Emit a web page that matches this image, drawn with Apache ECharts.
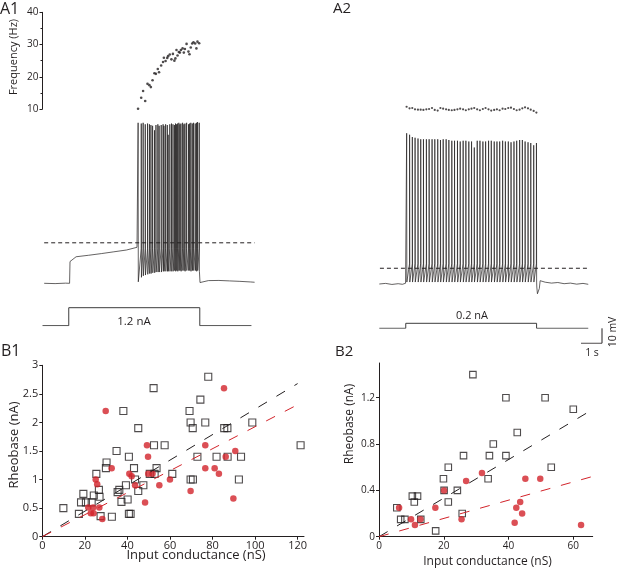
<!DOCTYPE html>
<html>
<head>
<meta charset="utf-8">
<script src="https://cdn.jsdelivr.net/npm/echarts@6/dist/echarts.min.js"></script>
<style>
html, body { margin: 0; padding: 0; background: #fff; }
#main { width: 617px; height: 569px; }
</style>
</head>
<body>
<div id="main"></div>
<script>
var INK = '#231f20';
var RED = '#d2232a';
var FONT = 'Open Sans';

// ---- A1: spike times (s), instantaneous frequency (Hz), spike peaks / troughs (mV)
var a1SpikeT = [4.55, 4.70, 4.79, 4.89, 5.00, 5.09, 5.16, 5.24, 5.33, 5.40,
    5.49, 5.55, 5.65, 5.74, 5.78, 5.86, 5.94, 5.98, 6.06, 6.14,
    6.21, 6.28, 6.33, 6.38, 6.43, 6.49, 6.54, 6.59, 6.67, 6.73,
    6.78, 6.86, 6.95, 7.00, 7.06, 7.13, 7.19, 7.27, 7.33, 7.38, 7.46];
var a1FreqHz = [10.1, 13.5, 15.6, 12.5, 17.8, 17.4, 16.8, 18.9, 21.1, 20.9,
    22.4, 21.4, 23.5, 24.6, 25.9, 24.9, 25.8, 26.4, 26.9, 25.4,
    27.1, 25.0, 25.7, 28.3, 26.6, 27.7, 27.5, 28.3, 28.8, 27.5,
    28.6, 30.2, 27.8, 27.0, 29.1, 30.3, 30.7, 30.3, 28.8, 30.9, 30.4];
var a1Peak = [37, 36.5, 37, 36, 36.5, 36, 35.5, 35, 32, 35.5,
    36, 35, 35.5, 36, 35, 36, 35.5, 29, 36, 36.5,
    36, 35.5, 36.5, 36, 36.5, 37, 36, 36.5, 37, 36,
    36.5, 37, 36, 36.5, 37, 36.5, 37, 36.5, 37, 37.5, 37];
var a1Trough = [-69, -66, -65, -64.5, -64, -63.5, -63.5, -63, -63, -62.5,
    -62.5, -62.5, -62.5, -62, -62, -62, -62, -62, -62, -62,
    -62, -61.5, -62, -61.5, -62, -61.5, -61.5, -62, -61.5, -61.5,
    -62, -61.5, -61.5, -61.5, -62, -61.5, -61.5, -61.5, -62, -61.5, -62];
var a1Threshold = -47;
var a1PreT = [0.08, 0.6, 1.1, 1.29, 1.31, 1.6, 2.2, 2.8, 3.4, 4.0, 4.5];
var a1PreV = [-70, -70.2, -69.9, -70, -55.5, -52.3, -51.3, -50.2, -49, -47.8, -46];
var a1PostT = [7.50, 7.55, 7.9, 8.4, 8.9, 9.4, 9.9, 10.1];
var a1PostV = [-69.5, -68.4, -68.2, -68.1, -68.4, -68.7, -69.1, -69.3];
var a1DashV = -43;
var a1DashT = [0.08, 10.1];
var a1StimT = [0, 1.25, 1.25, 7.49, 7.49, 9.95];
var a1StimI = [0, 0, 1.2, 1.2, 0, 0];

// ---- A2
var a2SpikeT = [1.30, 1.44, 1.57, 1.70, 1.84, 1.97, 2.10, 2.24, 2.37, 2.51,
    2.64, 2.78, 2.91, 3.04, 3.18, 3.31, 3.45, 3.58, 3.72, 3.85,
    3.99, 4.12, 4.26, 4.39, 4.52, 4.66, 4.79, 4.93, 5.06, 5.20,
    5.33, 5.47, 5.60, 5.73, 5.87, 6.00, 6.14, 6.27, 6.41, 6.54,
    6.68, 6.81, 6.94, 7.08, 7.21, 7.35, 7.48];
var a2FreqHz = [10.7, 10.2, 10.3, 9.9, 9.8, 9.8, 9.7, 9.9, 10.0, 10.3,
    9.7, 9.5, 10.3, 10.1, 9.9, 9.7, 9.6, 9.7, 9.9, 10.1,
    9.9, 9.6, 9.9, 10.1, 10.3, 9.9, 9.6, 10.0, 10.3, 9.9,
    9.5, 9.7, 9.9, 9.6, 10.1, 10.0, 10.3, 10.4, 10.0, 9.6,
    9.8, 10.2, 10.5, 10.2, 9.8, 9.4, 8.9];
var a2Peak = [30.5, 29.5, 28, 27.5, 27, 26.5, 26.5, 26.5, 26.5, 26.5,
    26.5, 26.5, 26, 26.5, 26.5, 26, 25.5, 25.5, 25.5, 25,
    25.5, 25.5, 25, 25, 21, 25.5, 25.5, 25, 25, 25.5,
    25.5, 25, 25, 25, 25.5, 25, 25, 24.5, 25, 25.5,
    26, 26, 25, 24.5, 24, 22.5, 24];
var a2Trough = -68.7;
var a2Threshold = -56.5;
var a2PreT = [0, 0.3, 0.6, 0.9, 1.1, 1.25, 1.29];
var a2PreV = [-70, -69.6, -70.3, -69.8, -70.2, -69.5, -68.5];
var a2PostT = [7.50, 7.53, 7.62, 7.66, 7.9, 8.2, 8.5, 8.8, 9.1, 9.4, 9.7, 9.95];
var a2PostV = [-72, -76.5, -73, -67.8, -68.8, -69.4, -69.0, -69.8, -69.4, -70.1, -69.6, -70.2];
var a2DashV = -59.5;
var a2DashT = [0.03, 10.03];
var a2StimT = [0, 1.26, 1.26, 7.49, 7.49, 9.95];
var a2StimI = [0, 0, 0.2, 0.2, 0, 0];

// scale bar: 1 s, 10 mV
var barT = [0, 1, 1];
var barV = [0, 0, 10];

// ---- B1: input conductance (nS) vs rheobase (nA)
var b1SquareX = [9.9, 17.2, 18.2, 19.3, 20.5, 23.2, 24.2, 25.4, 26.6, 26.9,
    27.4, 29.9, 30.2, 32.7, 34.9, 35.4, 36.2, 37.2, 38.1, 39.3,
    40.1, 40.7, 40.7, 41.5, 43.1, 43.6, 45.1, 45.1, 47.5, 50.5,
    52.3, 52.5, 52.8, 53.7, 57.5, 61.1, 69.2, 69.7, 69.7, 70.8,
    70.7, 72.9, 74.3, 76.6, 78.0, 81.9, 85.5, 87.0, 87.1, 92.4,
    93.4, 98.7, 121.4];
var b1SquareY = [0.5, 0.4, 0.6, 0.75, 0.6, 0.6, 0.72, 1.1, 0.82, 0.7,
    0.36, 1.2, 1.3, 0.35, 1.5, 0.78, 0.82, 0.61, 2.2, 0.9,
    0.65, 1.4, 0.4, 0.4, 1.2, 1.0, 0.8, 1.9, 0.9, 1.1,
    2.6, 1.6, 1.1, 1.2, 1.6, 1.1, 2.2, 2.0, 1.0, 1.0,
    1.9, 1.4, 2.4, 2.0, 2.8, 1.4, 1.9, 1.9, 1.4, 1.0,
    1.4, 2.0, 1.6];
var b1CircleX = [21.6, 22.8, 23.9, 24.1, 25.1, 25.8, 26.8, 28.2, 29.8, 32.6,
    40.9, 42.0, 43.6, 48.3, 49.2, 49.7, 49.8, 51.8, 55.0, 60.0,
    69.7, 76.6, 76.6, 81.0, 83.0, 85.4, 86.2, 89.8, 90.7];
var b1CircleY = [0.51, 0.41, 0.51, 0.41, 1.0, 0.92, 0.51, 0.31, 2.2, 1.2,
    1.1, 1.06, 0.9, 0.6, 1.6, 1.4, 1.1, 1.1, 0.9, 1.0,
    0.8, 1.6, 1.2, 1.2, 1.1, 2.6, 1.4, 0.67, 1.5];
var b1FitX = [0, 120];
var b1FitSquareY = [0, 2.68];
var b1FitCircleY = [0, 2.31];

// ---- B2
var b2SquareX = [5.5, 6.7, 8.0, 10.3, 11.9, 10.9, 12.9, 17.5, 19.9, 20.1,
    21.4, 21.4, 24.2, 25.7, 26.1, 29.0, 33.7, 34.1, 35.3, 39.2,
    39.2, 42.7, 51.3, 53.2, 60.0];
var b2SquareY = [0.25, 0.15, 0.15, 0.35, 0.35, 0.3, 0.15, 0.05, 0.5, 0.4,
    0.6, 0.3, 0.4, 0.2, 0.7, 1.4, 0.5, 0.7, 0.8, 1.2,
    0.7, 0.9, 1.2, 0.6, 1.1];
var b2CircleX = [6.2, 9.9, 11.1, 12.8, 17.4, 20.1, 25.5, 26.9, 31.8, 41.9,
    42.4, 43.6, 44.2, 45.2, 49.8, 62.4];
var b2CircleY = [0.25, 0.15, 0.1, 0.15, 0.25, 0.4, 0.15, 0.48, 0.55, 0.12,
    0.25, 0.3, 0.2, 0.5, 0.5, 0.1];
var b2FitX = [0, 65.7];
var b2FitSquareY = [0, 1.094];
var b2FitCircleY = [0, 0.518];

function pairs(xs, ys) {
    return xs.map(function (x, i) { return [x, ys[i]]; });
}
function pick(v, i) { return Array.isArray(v) ? v[i] : v; }

// membrane trace: pre-stim points, then each spike (threshold -> peak -> trough), then post points
function buildTrace(preT, preV, spikeT, peak, trough, thr, postT, postV) {
    var pts = pairs(preT, preV);
    spikeT.forEach(function (t, i) {
        if (i > 0) pts.push([t, pick(thr, i)]);
        pts.push([t + 0.003, pick(peak, i)]);
        pts.push([t + 0.012, pick(trough, i)]);
    });
    return pts.concat(pairs(postT, postV));
}

var hiddenX = function (g) { return { gridIndex: g, type: 'value', min: 0, max: 10.2, show: false }; };
var hiddenY = function (g, mn, mx) { return { gridIndex: g, type: 'value', min: mn, max: mx, show: false }; };

function axisStyle(size) {
    return {
        axisLine: { show: true, lineStyle: { color: INK, width: 1 } },
        axisTick: { show: true, length: 3, lineStyle: { color: INK, width: 1 } },
        axisLabel: { color: INK, fontSize: size, fontFamily: FONT, margin: 4 },
        splitLine: { show: false }
    };
}

function lineSeries(g, data, style) {
    return {
        type: 'line', xAxisIndex: g, yAxisIndex: g, data: data,
        showSymbol: false, symbol: 'none', silent: true,
        lineStyle: style
    };
}

var b1x = axisStyle(11);
b1x.gridIndex = 7; b1x.type = 'value'; b1x.min = 0; b1x.max = 123; b1x.interval = 20;
b1x.axisTick.customValues = [0, 20, 40, 60, 80, 100, 120];
b1x.axisLabel.customValues = [0, 20, 40, 60, 80, 100, 120];
var b1y = axisStyle(11);
b1y.gridIndex = 7; b1y.type = 'value'; b1y.min = 0; b1y.max = 3; b1y.interval = 0.5;

var b2x = axisStyle(10);
b2x.gridIndex = 8; b2x.type = 'value'; b2x.min = 0; b2x.max = 66; b2x.interval = 20;
b2x.axisTick.customValues = [0, 20, 40, 60];
b2x.axisLabel.customValues = [0, 20, 40, 60];
var b2y = axisStyle(10);
b2y.gridIndex = 8; b2y.type = 'value'; b2y.min = 0; b2y.max = 1.5; b2y.interval = 0.4;
b2y.axisTick.customValues = [0, 0.4, 0.8, 1.2];
b2y.axisLabel.customValues = [0, 0.4, 0.8, 1.2];

var freqY = axisStyle(10);
freqY.gridIndex = 0; freqY.type = 'value'; freqY.min = 10; freqY.max = 40; freqY.interval = 10;
freqY.minorTick = { show: true, splitNumber: 2, length: 2, lineStyle: { color: INK, width: 1 } };

function txt(s, x, y, size, rot) {
    return {
        type: 'text', x: x, y: y, rotation: rot || 0, silent: true,
        style: {
            text: s, fill: INK, fontSize: size, fontFamily: FONT,
            align: 'center', verticalAlign: 'middle',
            textAlign: 'center', textVerticalAlign: 'middle'
        }
    };
}
function label(s, x, y, size) {
    return {
        type: 'text', left: x, top: y, silent: true,
        style: { text: s, fill: INK, fontSize: size, fontFamily: FONT }
    };
}

var traceStyle = { color: INK, width: 0.7 };
var stimStyle = { color: '#3c3c3c', width: 1 };
var dashStyle = { color: INK, width: 1, type: [4, 3] };
var fitDash = [10, 11];

var myChart = echarts.init(document.getElementById('main'), null, { renderer: 'canvas' });
var option = {
    animation: false,
    backgroundColor: '#fff',
    grid: [
        { left: 42.5, top: 12.3, width: 214.2, height: 96.7, outerBoundsMode: 'none' },
        { left: 42.5, top: 118.3, width: 214.2, height: 180, outerBoundsMode: 'none' },
        { left: 42.5, top: 303.2, width: 214.2, height: 22.5, outerBoundsMode: 'none' },
        // A2 frequency: same Hz scale as A1 (3.22 px/Hz), extended down to 5 Hz
        { left: 379.3, top: 12.3, width: 214.2, height: 112.8, outerBoundsMode: 'none' },
        { left: 379.3, top: 119, width: 214.2, height: 180, outerBoundsMode: 'none' },
        { left: 379.3, top: 320.8, width: 214.2, height: 7.5, outerBoundsMode: 'none' },
        { left: 581, top: 328.3, width: 21, height: 15, outerBoundsMode: 'none' },
        { left: 42.3, top: 365.3, width: 261.7, height: 171.4, outerBoundsMode: 'none' },
        { left: 379, top: 363, width: 213.7, height: 173.7, outerBoundsMode: 'none' }
    ],
    xAxis: [
        hiddenX(0), hiddenX(1), hiddenX(2), hiddenX(3), hiddenX(4), hiddenX(5),
        { gridIndex: 6, type: 'value', min: 0, max: 1, show: false },
        b1x, b2x
    ],
    yAxis: [
        freqY,
        hiddenY(1, -80, 40), hiddenY(2, 0, 1.5),
        hiddenY(3, 5, 40), hiddenY(4, -80, 40), hiddenY(5, 0, 0.3),
        hiddenY(6, 0, 10),
        b1y, b2y
    ],
    series: [
        { type: 'scatter', xAxisIndex: 0, yAxisIndex: 0, data: pairs(a1SpikeT, a1FreqHz),
          symbolSize: 2.6, itemStyle: { color: INK } },
        lineSeries(1, pairs(a1DashT, [a1DashV, a1DashV]), dashStyle),
        lineSeries(1, buildTrace(a1PreT, a1PreV, a1SpikeT, a1Peak, a1Trough, a1Threshold, a1PostT, a1PostV), traceStyle),
        lineSeries(2, pairs(a1StimT, a1StimI), stimStyle),

        { type: 'scatter', xAxisIndex: 3, yAxisIndex: 3, data: pairs(a2SpikeT, a2FreqHz),
          symbolSize: 2.2, itemStyle: { color: INK } },
        lineSeries(4, pairs(a2DashT, [a2DashV, a2DashV]), dashStyle),
        lineSeries(4, buildTrace(a2PreT, a2PreV, a2SpikeT, a2Peak, a2Trough, a2Threshold, a2PostT, a2PostV), traceStyle),
        lineSeries(5, pairs(a2StimT, a2StimI), stimStyle),
        lineSeries(6, pairs(barT, barV), { color: INK, width: 1 }),

        lineSeries(7, pairs(b1FitX, b1FitSquareY), { color: INK, width: 1, type: fitDash }),
        lineSeries(7, pairs(b1FitX, b1FitCircleY), { color: RED, width: 1, type: fitDash }),
        { type: 'scatter', xAxisIndex: 7, yAxisIndex: 7, data: pairs(b1SquareX, b1SquareY),
          symbol: 'rect', symbolSize: 7,
          itemStyle: { color: 'rgba(255,255,255,0)', borderColor: INK, borderWidth: 1.1 } },
        { type: 'scatter', xAxisIndex: 7, yAxisIndex: 7, data: pairs(b1CircleX, b1CircleY),
          symbol: 'circle', symbolSize: 6.5, itemStyle: { color: RED } },

        lineSeries(8, pairs(b2FitX, b2FitSquareY), { color: INK, width: 1, type: fitDash }),
        lineSeries(8, pairs(b2FitX, b2FitCircleY), { color: RED, width: 1, type: fitDash }),
        { type: 'scatter', xAxisIndex: 8, yAxisIndex: 8, data: pairs(b2SquareX, b2SquareY),
          symbol: 'rect', symbolSize: 6.5,
          itemStyle: { color: 'rgba(255,255,255,0)', borderColor: INK, borderWidth: 1.1 } },
        { type: 'scatter', xAxisIndex: 8, yAxisIndex: 8, data: pairs(b2CircleX, b2CircleY),
          symbol: 'circle', symbolSize: 6.5, itemStyle: { color: RED } }
    ],
    graphic: [
        label('A1', 0, 1, 16),
        label('A2', 333, 1, 15),
        label('B1', 1, 343, 16),
        label('B2', 335, 344, 15),
        txt('Frequency (Hz)', 13.5, 57, 11, Math.PI / 2),
        txt('1.2 nA', 134, 321.7, 11.5),
        txt('0.2 nA', 472, 316, 11),
        txt('1 s', 592, 353, 10.5),
        txt('10 mV', 613, 332, 10.5, Math.PI / 2),
        txt('Rheobase (nA)', 14, 445, 13, Math.PI / 2),
        txt('Input conductance (nS)', 196, 555, 13),
        txt('Rheobase (nA)', 350, 424, 12, Math.PI / 2),
        txt('Input conductance (nS)', 487.5, 561.5, 12)
    ]
};
if (option && typeof option === "object") {
    myChart.setOption(option, true);
}
</script>
</body>
</html>
